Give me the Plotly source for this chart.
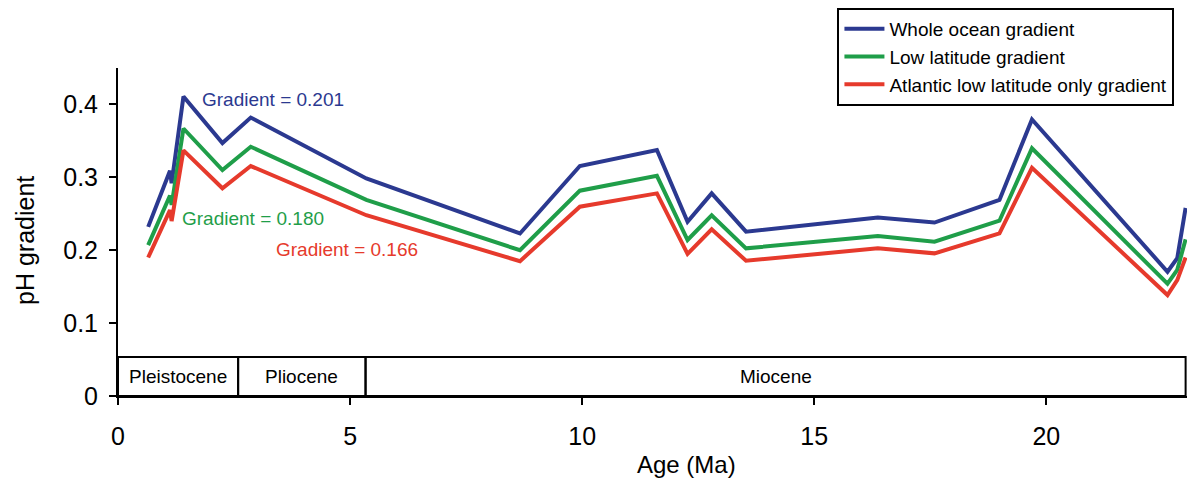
import plotly.graph_objects as go

# Age (Ma) of each sample
age = [0.65, 1.12, 1.155, 1.41, 2.25, 2.86, 5.35, 8.66, 9.95, 11.61, 12.27,
       12.79, 13.53, 16.37, 17.59, 18.99, 19.69, 22.61, 22.82, 23.0]

# pH gradient series
whole_ocean = [0.232, 0.309, 0.292, 0.411, 0.347, 0.382, 0.2985, 0.223, 0.3155,
               0.3375, 0.239, 0.278, 0.2255, 0.245, 0.238, 0.269, 0.3795, 0.1705,
               0.189, 0.258]
low_latitude = [0.207, 0.275, 0.262, 0.367, 0.310, 0.342, 0.269, 0.200, 0.2817,
                0.302, 0.214, 0.248, 0.2026, 0.2195, 0.2117, 0.2405, 0.3398, 0.154,
                0.173, 0.215]
atlantic_low_lat = [0.190, 0.255, 0.240, 0.337, 0.285, 0.3155, 0.248, 0.185, 0.2597,
                    0.278, 0.195, 0.2287, 0.1855, 0.2026, 0.1957, 0.2232, 0.313, 0.1385,
                    0.159, 0.190]

series_names = ["Whole ocean gradient", "Low latitude gradient",
                "Atlantic low latitude only gradient"]
series_colors = ["#2B3990", "#1F9E49", "#E63A2C"]

# Mean gradient labels
gradient_values = ["0.201", "0.180", "0.166"]
gradient_label_age = [3.34, 2.90, 4.94]
gradient_label_ph = [0.4074, 0.244, 0.2016]

# Geological epochs
epochs = ["Pleistocene", "Pliocene", "Miocene"]
epoch_start = [0.0, 2.588, 5.333]
epoch_end = [2.588, 5.333, 23.0]
epoch_band_top = 0.0535

x_ticks = [0, 5, 10, 15, 20]
y_ticks = [0, 0.1, 0.2, 0.3, 0.4]
y_tick_text = ["0", "0.1", "0.2", "0.3", "0.4"]

FONT = "Liberation Sans, Arial, sans-serif"

fig = go.Figure()
for name, ys, color in zip(series_names, [whole_ocean, low_latitude, atlantic_low_lat],
                           series_colors):
    fig.add_trace(go.Scatter(x=age, y=ys, mode="lines", name=name,
                             line=dict(color=color, width=4),
                             cliponaxis=True))

# Epoch band along the bottom of the axes
shapes = []
for s, e in zip(epoch_start, epoch_end):
    shapes.append(dict(type="rect", xref="x", yref="y", x0=s, x1=e,
                       y0=0, y1=epoch_band_top,
                       line=dict(color="black", width=2), fillcolor="rgba(0,0,0,0)",
                       layer="above"))

annotations = []
for name, s, e in zip(epochs, epoch_start, epoch_end):
    annotations.append(dict(x=(s + e) / 2, y=epoch_band_top / 2, xref="x", yref="y",
                            text=name, showarrow=False,
                            font=dict(family=FONT, size=19, color="black")))

for val, ax, ay, color in zip(gradient_values, gradient_label_age, gradient_label_ph,
                              series_colors):
    annotations.append(dict(x=ax, y=ay, xref="x", yref="y",
                            text="Gradient = " + val, showarrow=False,
                            font=dict(family=FONT, size=19, color=color)))

# Axis titles
annotations.append(dict(x=(687 - 118) / 1069, y=(396 - 464) / 328, xref="paper",
                        yref="paper", xanchor="center", yanchor="middle",
                        text="Age (Ma)", showarrow=False,
                        font=dict(family=FONT, size=24, color="black")))
annotations.append(dict(x=(25 - 118) / 1069, y=0.4726, xref="paper", yref="paper",
                        xanchor="center", yanchor="middle",
                        text="pH gradient", textangle=-90, showarrow=False,
                        font=dict(family=FONT, size=25, color="black")))

fig.update_layout(
    width=1187, height=480,
    margin=dict(l=118, r=0, t=68, b=84, autoexpand=False),
    paper_bgcolor="white", plot_bgcolor="white",
    font=dict(family=FONT, color="black"),
    shapes=shapes, annotations=annotations,
    showlegend=True,
    legend=dict(x=0.673, y=1.183, xanchor="left", yanchor="top",
                bordercolor="black", borderwidth=2, bgcolor="white",
                font=dict(family=FONT, size=19, color="black"),
                tracegroupgap=0, itemwidth=40),
    xaxis=dict(range=[0, 23.03], tickvals=x_ticks, ticks="outside", ticklen=7,
               tickwidth=2, tickcolor="black", showline=True, linecolor="black",
               linewidth=2, showgrid=False, zeroline=False, ticklabelstandoff=10,
               tickfont=dict(family=FONT, size=25, color="black")),
    yaxis=dict(range=[0, 0.45], tickvals=y_ticks, ticktext=y_tick_text,
               ticks="outside", ticklen=7, tickwidth=2, tickcolor="black",
               showline=True, linecolor="black", linewidth=2, showgrid=False,
               zeroline=False, ticklabelstandoff=6,
               tickfont=dict(family=FONT, size=25, color="black")),
)

fig.write_html("out.html")
